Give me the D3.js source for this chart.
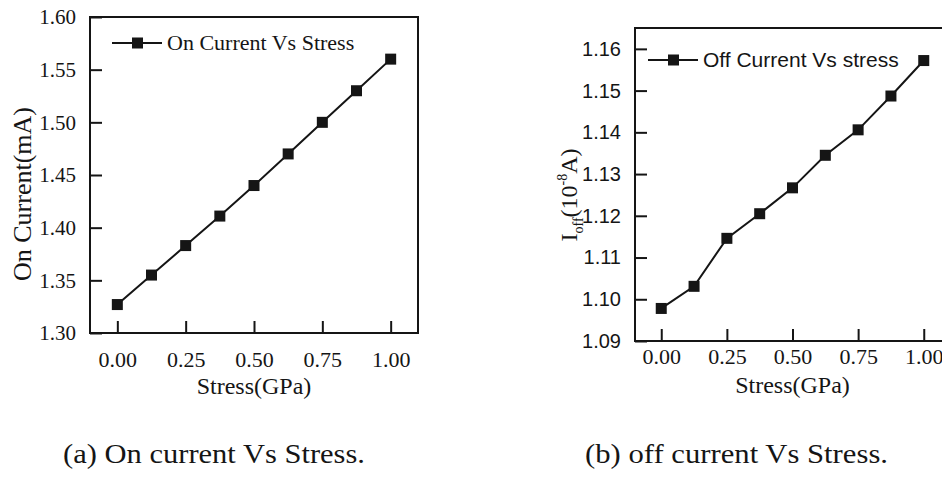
<!DOCTYPE html>
<html>
<head>
<meta charset="utf-8">
<script src="https://cdn.jsdelivr.net/npm/d3@7"></script>
<style>
  html, body { margin: 0; padding: 0; background: #fff; }
  svg { display: block; }
</style>
</head>
<body>
<svg id="chart" width="942" height="479"></svg>
<script>
// Stress levels (GPa) shared by both panels
const stress = [0, 0.125, 0.25, 0.375, 0.5, 0.625, 0.75, 0.875, 1.0];
// On current (mA)
const onCurrent = [1.327, 1.355, 1.383, 1.411, 1.440, 1.470, 1.500, 1.530, 1.560];
// Off current (1e-8 A)
const offCurrent = [1.0978, 1.1031, 1.1146, 1.1205, 1.1267, 1.1345, 1.1406, 1.1487, 1.1572];

const xTicks = [0, 0.25, 0.5, 0.75, 1.0];
const onTicks = [1.30, 1.35, 1.40, 1.45, 1.50, 1.55, 1.60];
const offTicks = [1.09, 1.10, 1.11, 1.12, 1.13, 1.14, 1.15, 1.16];

const svg = d3.select("#chart");
const serif = "'Liberation Serif', 'Times New Roman', serif";
const sans = "'Liberation Sans', Arial, sans-serif";
const ink = "#151515";

function panel(cfg) {
  const x = d3.scaleLinear().domain([-0.1, 1.1]).range([cfg.left, cfg.right]);
  const y = d3.scaleLinear().domain(cfg.yDomain).range([cfg.bottom, cfg.top]);
  const g = svg.append("g");

  // frame
  g.append("rect")
    .attr("x", cfg.left).attr("y", cfg.top)
    .attr("width", cfg.right - cfg.left).attr("height", cfg.bottom - cfg.top)
    .attr("fill", "none").attr("stroke", ink).attr("stroke-width", 2);

  // x axis (ticks pointing inward)
  const xa = g.append("g").attr("transform", `translate(0,${cfg.bottom})`)
    .call(d3.axisBottom(x).tickValues(xTicks).tickSize(-12).tickPadding(0)
      .tickFormat(d3.format(".2f")));
  xa.select(".domain").remove();
  xa.selectAll(".tick line").attr("stroke", ink).attr("stroke-width", 2);
  xa.selectAll(".tick text").attr("font-family", serif).attr("font-size", 22)
    .attr("fill", ink).attr("dy", null).attr("y", cfg.xLabelOffset);

  // y axis (ticks pointing inward)
  const ya = g.append("g").attr("transform", `translate(${cfg.left},0)`)
    .call(d3.axisLeft(y).tickValues(cfg.yTicks).tickSize(-12).tickPadding(14)
      .tickFormat(d3.format(".2f")));
  ya.select(".domain").remove();
  ya.selectAll(".tick line").attr("stroke", ink).attr("stroke-width", 2);
  ya.selectAll(".tick text").attr("font-family", cfg.yFont).attr("font-size", cfg.yFontSize)
    .attr("fill", ink);

  // data line and markers
  const pts = stress.map((s, i) => [s, cfg.values[i]]);
  g.append("path").datum(pts)
    .attr("fill", "none").attr("stroke", ink).attr("stroke-width", 2)
    .attr("d", d3.line().x(d => x(d[0])).y(d => y(d[1])));
  g.selectAll("rect.mk").data(pts).enter().append("rect").attr("class", "mk")
    .attr("x", d => x(d[0]) - 5.5).attr("y", d => y(d[1]) - 5.5)
    .attr("width", 11).attr("height", 11).attr("fill", ink);

  // legend
  const lg = g.append("g");
  lg.append("line").attr("x1", cfg.legX).attr("x2", cfg.legX + 50)
    .attr("y1", cfg.legY).attr("y2", cfg.legY).attr("stroke", ink).attr("stroke-width", 2);
  lg.append("rect").attr("x", cfg.legX + 20).attr("y", cfg.legY - 5.5)
    .attr("width", 11).attr("height", 11).attr("fill", ink);
  lg.append("text").attr("x", cfg.legX + 55).attr("y", cfg.legY + 7)
    .attr("font-family", cfg.legFont).attr("font-size", cfg.legFontSize).attr("fill", ink)
    .text(cfg.legend);

  // x title
  g.append("text").attr("x", (x(0) + x(1)) / 2).attr("y", cfg.bottom + cfg.xTitleOffset)
    .attr("text-anchor", "middle").attr("font-family", serif).attr("font-size", 24)
    .attr("fill", ink).text("Stress(GPa)");

  return { x, y, g };
}

// (a) On current
const a = panel({
  left: 90, right: 418, top: 17, bottom: 333,
  yDomain: [1.30, 1.60], yTicks: onTicks, values: onCurrent,
  yFont: serif, yFontSize: 21, xLabelOffset: 34, xTitleOffset: 61,
  legX: 112, legY: 43, legend: "On Current Vs Stress", legFont: serif, legFontSize: 22
});
a.g.append("text")
  .attr("transform", "translate(31,194) rotate(-90)")
  .attr("text-anchor", "middle").attr("font-family", serif).attr("font-size", 26)
  .attr("fill", ink).text("On Current(mA)");

// (b) Off current
const b = panel({
  left: 635, right: 950, top: 28, bottom: 341,
  yDomain: [1.09, 1.165], yTicks: offTicks, values: offCurrent,
  yFont: sans, yFontSize: 20, xLabelOffset: 23, xTitleOffset: 52,
  legX: 648, legY: 60, legend: "Off Current Vs stress", legFont: sans, legFontSize: 21
});
const yl = b.g.append("text")
  .attr("transform", "translate(577,195) rotate(-90)")
  .attr("text-anchor", "middle").attr("font-family", serif).attr("font-size", 24)
  .attr("fill", ink);
yl.append("tspan").text("I");
yl.append("tspan").attr("font-size", 14).attr("dy", 6).text("off");
yl.append("tspan").attr("dy", -6).text("(10");
yl.append("tspan").attr("font-size", 14).attr("dy", -10).text("-8");
yl.append("tspan").attr("dy", 10).text("A)");

// captions
svg.append("text").attr("x", 63).attr("y", 463)
  .attr("font-family", serif).attr("font-size", 27).attr("fill", ink)
  .attr("textLength", 302).attr("lengthAdjust", "spacingAndGlyphs")
  .text("(a) On current Vs Stress.");
svg.append("text").attr("x", 585).attr("y", 463)
  .attr("font-family", serif).attr("font-size", 27).attr("fill", ink)
  .attr("textLength", 303).attr("lengthAdjust", "spacingAndGlyphs")
  .text("(b) off current Vs Stress.");
</script>
</body>
</html>
